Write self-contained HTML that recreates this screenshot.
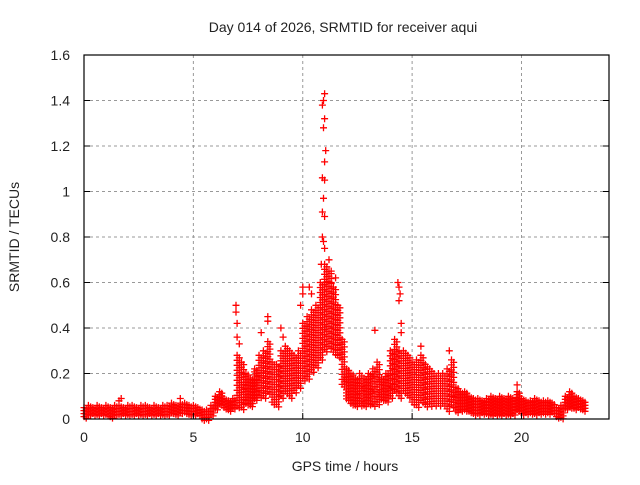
<!DOCTYPE html>
<html><head><meta charset="utf-8"><style>
body{margin:0;background:#fff}
svg text{font-family:"Liberation Sans",sans-serif;font-size:14px;fill:#222}
</style></head><body>
<svg id="c" width="640" height="480">
<text x="343" y="32" text-anchor="middle">Day 014 of 2026, SRMTID for receiver aqui</text>
<text x="345" y="471" text-anchor="middle">GPS time / hours</text>
<text transform="translate(19,237) rotate(-90)" text-anchor="middle">SRMTID / TECUs</text>
<g id="grid"></g><g id="marks"></g>
<rect x="84" y="55" width="525" height="364" fill="none" stroke="#000" stroke-width="1.2"/>
<g id="ticks"></g>
</svg>
<script>
const xTicks=[0,5,10,15,20];
const yTicks=[0,0.2,0.4,0.6,0.8,1,1.2,1.4,1.6];
const yTickLabels=["0","0.2","0.4","0.6","0.8","1","1.2","1.4","1.6"];
const times=[0,0.2,0.4,0.6,0.8,1,1.2,1.4,1.6,1.8,2,2.2,2.4,2.6,2.8,3,3.2,3.4,3.6,3.8,4,4.2,4.4,4.6,4.8,5,5.2,5.4,5.6,5.8,6,6.2,6.4,6.6,6.8,7,7.2,7.4,7.6,7.8,8,8.2,8.4,8.6,8.8,9,9.2,9.4,9.6,9.8,10,10.2,10.4,10.6,10.8,11,11.2,11.4,11.6,11.8,12,12.2,12.4,12.6,12.8,13,13.2,13.4,13.6,13.8,14,14.2,14.4,14.6,14.8,15,15.2,15.4,15.6,15.8,16,16.2,16.4,16.6,16.8,17,17.2,17.4,17.6,17.8,18,18.2,18.4,18.6,18.8,19,19.2,19.4,19.6,19.8,20,20.2,20.4,20.6,20.8,21,21.2,21.4,21.6,21.8,22,22.2,22.4,22.6,22.8];
const lo=[0.01,0.01,0.02,0.01,0.02,0.02,0.01,0.02,0.02,0.02,0.02,0.02,0.02,0.01,0.02,0.02,0.02,0.02,0.02,0.02,0.02,0.02,0.03,0.03,0.02,0.02,0.02,0.0,0.0,0.01,0.04,0.06,0.05,0.04,0.04,0.06,0.05,0.06,0.06,0.08,0.1,0.1,0.12,0.06,0.05,0.1,0.12,0.1,0.12,0.14,0.16,0.18,0.2,0.22,0.26,0.3,0.3,0.28,0.26,0.15,0.08,0.06,0.06,0.05,0.06,0.06,0.06,0.06,0.08,0.08,0.1,0.12,0.1,0.12,0.1,0.06,0.06,0.08,0.06,0.06,0.05,0.05,0.05,0.04,0.05,0.03,0.03,0.03,0.03,0.02,0.02,0.02,0.02,0.02,0.02,0.02,0.02,0.02,0.02,0.03,0.02,0.02,0.02,0.02,0.02,0.02,0.02,0.02,0.0,0.0,0.04,0.05,0.04,0.04,0.04];
const hi=[0.05,0.06,0.05,0.06,0.05,0.06,0.05,0.06,0.06,0.05,0.06,0.06,0.05,0.06,0.06,0.05,0.06,0.05,0.06,0.06,0.07,0.06,0.07,0.07,0.06,0.06,0.05,0.04,0.04,0.06,0.1,0.12,0.09,0.08,0.09,0.28,0.25,0.2,0.18,0.22,0.28,0.3,0.34,0.25,0.24,0.3,0.32,0.3,0.28,0.3,0.42,0.45,0.48,0.5,0.6,0.68,0.65,0.58,0.5,0.35,0.22,0.2,0.18,0.2,0.18,0.2,0.22,0.25,0.18,0.2,0.3,0.35,0.3,0.3,0.28,0.25,0.26,0.28,0.24,0.22,0.2,0.2,0.2,0.22,0.26,0.14,0.12,0.12,0.1,0.09,0.09,0.08,0.09,0.1,0.09,0.1,0.09,0.1,0.09,0.12,0.09,0.08,0.08,0.09,0.08,0.08,0.08,0.07,0.05,0.06,0.1,0.12,0.1,0.09,0.08];
const outT=[1.6,1.7,4.4,6.95,6.95,7.0,7.0,7.1,8.4,8.4,8.1,9.0,9.1,10.0,10.0,9.9,10.3,10.4,10.9,11.0,10.95,11.0,10.95,11.05,11.0,10.9,11.0,10.95,10.9,11.0,10.9,10.95,11.0,11.2,10.85,11.3,11.1,11.3,11.5,13.3,14.35,14.4,14.45,14.4,14.5,14.5,15.4,16.7,19.8];
const outV=[0.08,0.09,0.09,0.5,0.47,0.42,0.36,0.33,0.45,0.43,0.38,0.4,0.36,0.58,0.55,0.5,0.58,0.55,1.38,1.43,1.4,1.32,1.28,1.18,1.13,1.06,1.05,0.97,0.91,0.89,0.8,0.78,0.75,0.7,0.68,0.65,0.6,0.6,0.62,0.39,0.6,0.58,0.55,0.52,0.42,0.38,0.32,0.3,0.15];
const X=t=>84+t*(525/24), Y=v=>419-v*(364/1.6);
const NS="http://www.w3.org/2000/svg";
const grid=document.getElementById('grid'),ticks=document.getElementById('ticks'),marks=document.getElementById('marks');
function mk(tag,attrs,parent){const e=document.createElementNS(NS,tag);for(const k in attrs)e.setAttribute(k,attrs[k]);parent.appendChild(e);return e;}
xTicks.forEach(t=>{
 if(t>0){const g=mk('line',{x1:X(t),x2:X(t),y1:55,y2:419,stroke:'#999','stroke-dasharray':'3,3'},grid);
 
 }
 const k=mk('line',{x1:X(t),x2:X(t),y1:419,y2:413,stroke:'#000'},ticks);
 
 
 const l=mk('text',{x:X(t),y:442,'text-anchor':'middle'},ticks);l.textContent=t;
 
 
});
yTicks.forEach((v,i)=>{
 if(v>0&&v<1.6){const g=mk('line',{x1:84,x2:609,y1:Y(v),y2:Y(v),stroke:'#999','stroke-dasharray':'3,3'},grid);
 
 }
 const k=mk('line',{x1:84,x2:90,y1:Y(v),y2:Y(v),stroke:'#000'},ticks);
 
 
 const k2=mk('line',{x1:603,x2:609,y1:Y(v),y2:Y(v),stroke:'#000'},ticks);
 
 
 const l=mk('text',{x:70,y:Y(v)+5,'text-anchor':'end'},ticks);l.textContent=yTickLabels[i];
 
 
});
let d='';
function plus(x,y){d+=`M${(x-3.5).toFixed(1)},${y.toFixed(1)}h7M${x.toFixed(1)},${(y-3.5).toFixed(1)}v7`;}
times.forEach((t,i)=>{const y1=Y(hi[i]),y0=Y(lo[i]);const x=X(t);
 const step=(hi[i]-lo[i])>0.15?5:3;
 for(let y=y1;y<=y0+0.1;y+=step){plus(x,y);plus(x+2.2,y+step/2);}});
outT.forEach((t,i)=>plus(X(t),Y(outV[i])));
const p=mk('path',{d:d,stroke:'#ff0000','stroke-width':1.3,fill:'none'},marks);


</script>
</body></html>
